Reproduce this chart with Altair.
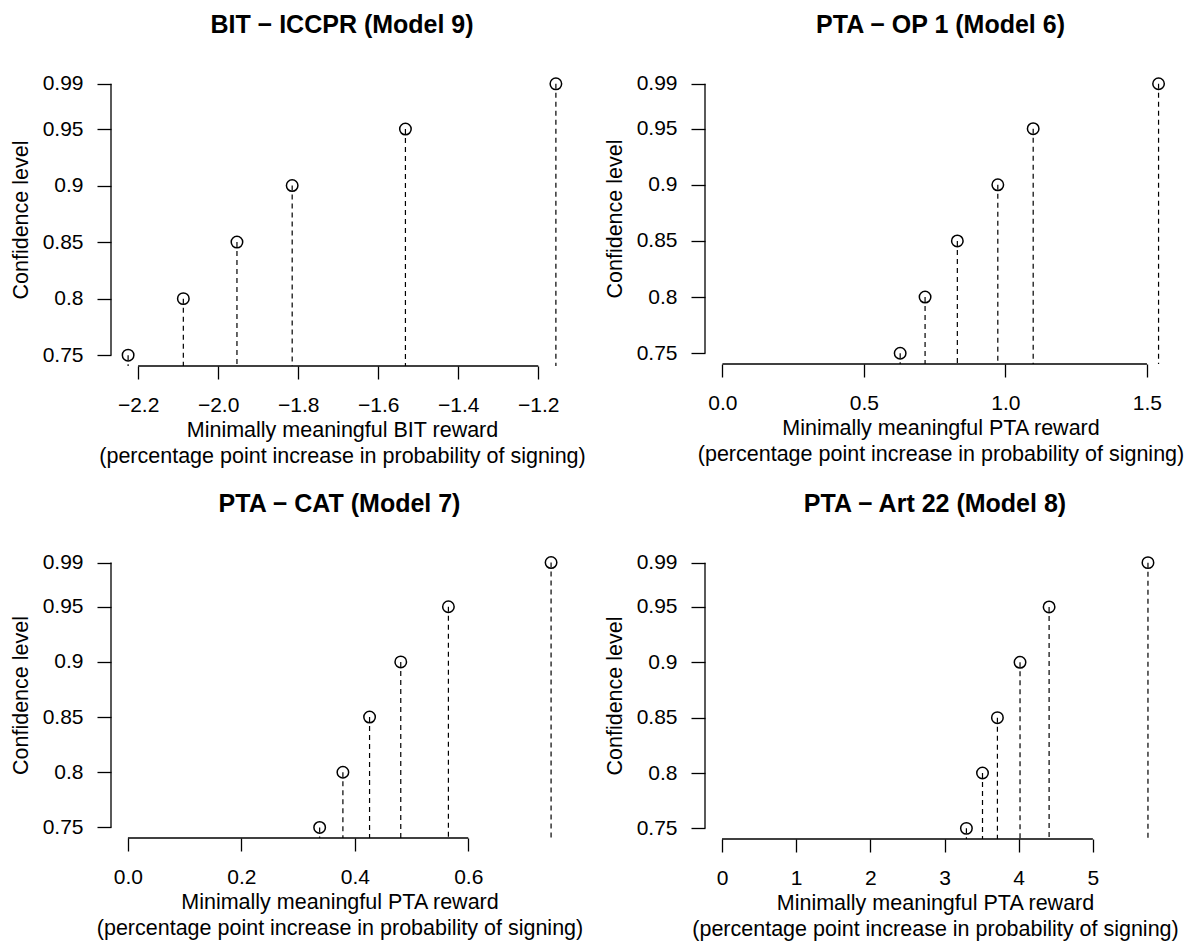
import altair as alt
import pandas as pd

# Confidence levels (y values, shared by all panels)
conf = [0.75, 0.80, 0.85, 0.90, 0.95, 0.99]

# Minimally meaningful reward at each confidence level
bit_iccpr = [-2.225, -2.087, -1.953, -1.815, -1.532, -1.156]
pta_op1 = [0.628, 0.716, 0.830, 0.973, 1.098, 1.541]
pta_cat = [0.338, 0.379, 0.426, 0.481, 0.565, 0.746]
pta_art22 = [3.295, 3.512, 3.713, 4.018, 4.410, 5.743]

# Tick values
ticks_bit = [-2.2, -2.0, -1.8, -1.6, -1.4, -1.2]
ticks_op1 = [0.0, 0.5, 1.0, 1.5]
ticks_cat = [0.0, 0.2, 0.4, 0.6]
ticks_art22 = [0, 1, 2, 3, 4, 5]

# Texts
titles = ["BIT − ICCPR (Model 9)", "PTA − OP 1 (Model 6)",
          "PTA − CAT (Model 7)", "PTA − Art 22 (Model 8)"]
xtitle_bit = ["Minimally meaningful BIT reward",
              "(percentage point increase in probability of signing)"]
xtitle_pta = ["Minimally meaningful PTA reward",
              "(percentage point increase in probability of signing)"]
ytitle = "Confidence level"

FONT = "Liberation Sans"


def panel(xs, title, xtitle, ticks, fmt, include_zero, w, h, toff):
    df = pd.DataFrame({"x": xs, "conf": conf})
    lo = min(xs + ([0] if include_zero else []))
    hi = max(xs)
    pad = 0.04 * (hi - lo)
    ypad = 0.04 * (max(conf) - min(conf))
    xscale = alt.Scale(domain=[lo - pad, hi + pad], nice=False, zero=False)
    yscale = alt.Scale(domain=[min(conf) - ypad, max(conf) + ypad], nice=False, zero=False)
    xaxis = alt.Axis(values=ticks, format=fmt, title=xtitle, domain=False, grid=False,
                     tickSize=13, tickColor="black", tickWidth=1.3,
                     labelFont=FONT, labelFontSize=21, labelColor="black", labelPadding=15,
                     labelFlush=False, labelOverlap=False, labelBound=False,
                     titleFont=FONT, titleFontSize=21.5, titleFontWeight="normal",
                     titleColor="black", titlePadding=4, titleLineHeight=26)
    yaxis = alt.Axis(values=conf, format=".2~f", title=ytitle, domain=False, grid=False,
                     tickSize=14, tickColor="black", tickWidth=1.3,
                     labelFont=FONT, labelFontSize=21, labelColor="black", labelPadding=14,
                     labelAngle=0, labelFlush=False, labelOverlap=False, labelBound=False,
                     titleFont=FONT, titleFontSize=21.5, titleFontWeight="normal",
                     titleColor="black", titlePadding=10)
    base = alt.Chart(df)
    stems = base.mark_rule(strokeDash=[5, 4], color="black", strokeWidth=1.2).encode(
        x=alt.X("x:Q", scale=xscale, axis=xaxis),
        y=alt.Y("conf:Q", scale=yscale, axis=yaxis),
        y2=alt.value(h),
    )
    pts = base.mark_point(shape="circle", filled=False, size=132, color="black",
                          strokeWidth=1.5, opacity=1).encode(
        x=alt.X("x:Q"), y=alt.Y("conf:Q"))
    one = pd.DataFrame({"k": [0]})
    xline = alt.Chart(one).mark_rule(color="black", strokeWidth=1.3).encode(
        x=alt.datum(ticks[0]), x2=alt.datum(ticks[-1]), y=alt.value(h))
    yline = alt.Chart(one).mark_rule(color="black", strokeWidth=1.3).encode(
        x=alt.value(0), y=alt.datum(conf[0]), y2=alt.datum(conf[-1]))
    return alt.layer(stems, pts, xline, yline).properties(
        width=w, height=h,
        title=alt.TitleParams(text=title, fontSize=25, fontWeight="bold", font=FONT,
                              color="black", anchor="middle", offset=toff),
    )


p1 = panel(bit_iccpr, titles[0], xtitle_bit, ticks_bit, ".1f", False, 462, 293, 35)
p2 = panel(pta_op1, titles[1], xtitle_pta, ticks_op1, ".1f", True, 471, 291, 35)
p3 = panel(pta_cat, titles[2], xtitle_pta, ticks_cat, ".1f", True, 457, 286, 35)
p4 = panel(pta_art22, titles[3], xtitle_pta, ticks_art22, "d", True, 460, 287, 35)

chart = alt.concat(p1, p2, p3, p4, columns=2, spacing={"row": 186, "column": 132},
                   bounds="flush", align="none").properties(
    padding={"left": 2, "top": 4, "right": 5, "bottom": 5},
    background="white",
).configure_view(stroke=None)

chart.save("out.html", embed_options={"renderer": "svg", "actions": False})
